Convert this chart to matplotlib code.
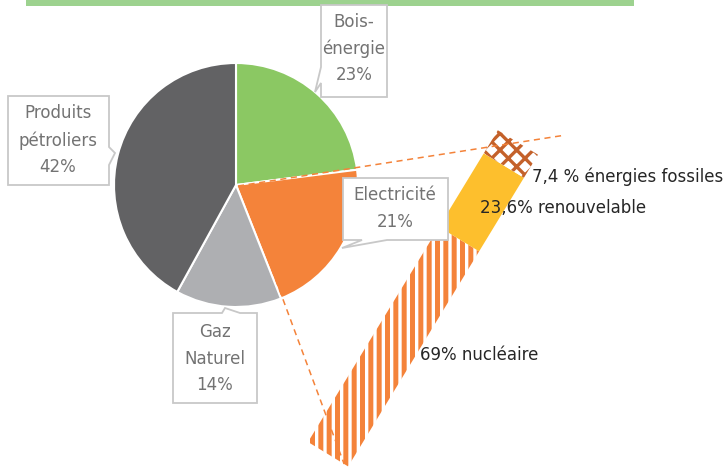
import numpy as np
import matplotlib
matplotlib.use("Agg")
import matplotlib.pyplot as plt
from matplotlib.patches import Rectangle, Polygon
from matplotlib.transforms import Affine2D

# ---------------- data ----------------
pie_labels = ["Bois-\nénergie", "Electricité", "Gaz\nNaturel", "Produits\npétroliers"]
pie_values = [23, 21, 14, 42]
pie_colors = ["#8BC863", "#F4833A", "#AEAFB2", "#626264"]

elec_labels = ["69% nucléaire", "23,6% renouvelable", "7,4 % énergies fossiles"]
elec_values = [69, 23.6, 7.4]

plt.rcParams['font.family'] = ['DejaVu Sans']
plt.rcParams['hatch.linewidth'] = 3.6

W, H = 724, 471
fig = plt.figure(figsize=(W / 100, H / 100), dpi=100)
ax = fig.add_axes([0, 0, 1, 1])

# top green band
ax.add_patch(Rectangle((26, 0), 608, 6, facecolor="#9DD28F", edgecolor="none", zorder=1))

# ---------------- pie ----------------
cx, cy, R = 236, 185, 122
explode = [0, 0.03, 0, 0]
wedges, _ = ax.pie(pie_values, colors=pie_colors, startangle=-90, counterclock=True,
                   center=(cx, cy), radius=R, explode=explode,
                   wedgeprops=dict(edgecolor="white", linewidth=1.5))

# ---------------- rotated stacked bar ----------------
d = np.array([0.52, -0.854]); d /= np.linalg.norm(d)
n = np.array([0.854, 0.52]); n /= np.linalg.norm(n)
L, Wd = 365.0, 47.0
O = np.array([308.0, 442.0])
a = d * L / 100.0
b = n * Wd
tr_bar = Affine2D(np.array([[a[0], b[0], O[0]],
                            [a[1], b[1], O[1]],
                            [0, 0, 1]]))
T = tr_bar + ax.transData

styles = [dict(facecolor="white", edgecolor="#F4833A", hatch="||", linewidth=0),
          dict(facecolor="#FDBF2D", edgecolor="#FDBF2D", linewidth=0),
          dict(facecolor="white", edgecolor="#C4612A", hatch="xx", linewidth=0)]
hatch_lw = [3.6, 3.6, 2.4]
cum = np.concatenate([[0], np.cumsum(elec_values)])
for i, v in enumerate(elec_values):
    with plt.rc_context({'hatch.linewidth': hatch_lw[i]}):
        r = Rectangle((cum[i], 0), v, 1, transform=T, zorder=3, **styles[i])
    if hasattr(r, "set_hatch_linewidth"):
        r.set_hatch_linewidth(hatch_lw[i])
    ax.add_patch(r)

# dashed connectors from the slice to the bar ends
def bar_pt(u, v):
    return tr_bar.transform((u, v))

vx, vy = cx + 2, cy + 1
top_pt = bar_pt(cum[-1], 0.5)
ext = 1.17
ax.plot([vx, vx + (top_pt[0] - vx) * ext], [vy, vy + (top_pt[1] - vy) * ext],
        color="#F4833A", lw=1.1, ls=(0, (4, 3)), zorder=4)
bot_pt = bar_pt(0, 0.9)
ax.plot([vx + 4, bot_pt[0]], [vy + 3, bot_pt[1]],
        color="#F4833A", lw=1.1, ls=(0, (4, 3)), zorder=4)

# bar labels
bar_label_pos = [(420, 355), (480, 208), (532, 177)]
for lab, (x, y) in zip(elec_labels, bar_label_pos):
    ax.text(x, y, lab, fontsize=12, color="#262626", ha="left", va="center", zorder=6)

# ---------------- callouts ----------------
def callout(x0, y0, x1, y1, side, b1, b2, tip):
    pts = [(x0, y0)]
    if side == "top":
        pts += [(b1, y0), tip, (b2, y0)]
    pts += [(x1, y0)]
    if side == "right":
        pts += [(x1, b1), tip, (x1, b2)]
    pts += [(x1, y1)]
    if side == "bottom":
        pts += [(b2, y1), tip, (b1, y1)]
    pts += [(x0, y1)]
    if side == "left":
        pts += [(x0, b2), tip, (x0, b1)]
    ax.add_patch(Polygon(pts, closed=True, facecolor="white", edgecolor="#C8C8C8",
                         linewidth=1.3, zorder=5))

boxes = [
    dict(rect=(321, 5, 387, 97), side="left", b=(67, 83), tip=(315, 92), xc=354, ys=[22, 49, 75]),
    dict(rect=(343, 178, 448, 240), side="bottom", b=(362, 387), tip=(342, 248), xc=395, ys=[195, 222]),
    dict(rect=(173, 313, 257, 403), side="top", b=(222, 240), tip=(225, 308), xc=215, ys=[332, 359, 385]),
    dict(rect=(8, 96, 109, 185), side="right", b=(147, 165), tip=(115, 153), xc=58, ys=[113, 141, 167]),
]
for lab, val, bx in zip(pie_labels, pie_values, boxes):
    callout(*bx["rect"], bx["side"], *bx["b"], bx["tip"])
    lines = lab.split("\n") + [f"{val}%"]
    for txt, y in zip(lines, bx["ys"]):
        ax.text(bx["xc"], y, txt, fontsize=12, color="#737373", ha="center", va="center", zorder=6)

ax.set_xlim(0, W)
ax.set_ylim(H, 0)
ax.set_aspect("equal")
ax.axis("off")
fig.savefig("out.png", dpi=100)
